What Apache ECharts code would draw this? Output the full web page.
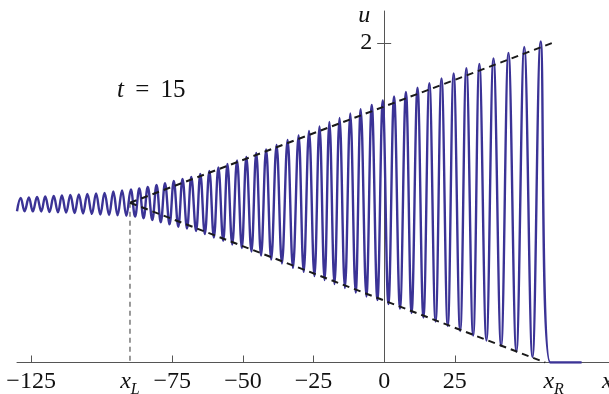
<!DOCTYPE html>
<html>
<head>
<meta charset="utf-8">
<script src="https://cdn.jsdelivr.net/npm/echarts@6/dist/echarts.min.js"></script>
<style>
html, body { margin: 0; padding: 0; background: #fff; }
#chart { width: 609px; height: 394px; }
</style>
</head>
<body>
<div id="chart"></div>
<script>
// wave extrema (x, u)
var troughX = [-130, -127.3, -124.4, -121.4, -118.5, -115.5, -112.6, -109.6, -106.6, -103.5,
	-100.5, -97.4, -94.4, -91.3, -88.2, -85.2, -82.1, -79.1, -76.0, -72.9,
	-69.8, -66.6, -63.5, -60.3, -57.0, -53.8, -50.4, -47.0, -43.6, -40.0,
	-36.2, -32.3, -28.5, -24.7, -21.1, -17.6, -13.9, -10.1, -6.3, -2.4,
	1.5, 5.6, 9.7, 13.9, 18.2, 22.5, 26.9, 31.5, 36.2, 41.4,
	46.8, 52.5];
var troughU = [0.947, 0.947, 0.946, 0.945, 0.942, 0.940, 0.938, 0.936, 0.933, 0.930,
	0.926, 0.923, 0.921, 0.918, 0.914, 0.903, 0.892, 0.878, 0.865, 0.850,
	0.839, 0.823, 0.804, 0.782, 0.761, 0.739, 0.717, 0.695, 0.670, 0.645,
	0.620, 0.592, 0.567, 0.541, 0.516, 0.491, 0.466, 0.438, 0.413, 0.391,
	0.366, 0.338, 0.310, 0.282, 0.257, 0.228, 0.197, 0.169, 0.138, 0.103,
	0.069, 0.034];
var peakX = [-128.7, -125.8, -122.9, -120.0, -117.0, -114.1, -111.1, -108.1, -105.1, -102.0,
	-99.0, -95.9, -92.8, -89.7, -86.7, -83.7, -80.6, -77.6, -74.5, -71.4,
	-68.3, -65.1, -61.9, -58.7, -55.5, -52.1, -48.8, -45.3, -41.8, -38.1,
	-34.2, -30.3, -26.6, -22.9, -19.4, -15.8, -12.0, -8.3, -4.4, -0.5,
	3.5, 7.7, 11.8, 16.0, 20.3, 24.6, 29.1, 33.7, 38.7, 44.0,
	49.6, 55.4];
var peakU = [1.030, 1.033, 1.036, 1.039, 1.042, 1.045, 1.049, 1.052, 1.055, 1.058,
	1.061, 1.070, 1.077, 1.083, 1.089, 1.099, 1.111, 1.122, 1.136, 1.149,
	1.161, 1.180, 1.199, 1.221, 1.243, 1.264, 1.286, 1.311, 1.333, 1.362,
	1.393, 1.421, 1.449, 1.477, 1.505, 1.531, 1.559, 1.585, 1.612, 1.640,
	1.665, 1.693, 1.720, 1.748, 1.778, 1.809, 1.842, 1.869, 1.903, 1.937,
	1.975, 2.009];
var tailX = [58.8, 69.9];
var tailU = [0, 0];

// envelopes and the x_L marker
var upperX = [-90, 59.5];
var upperU = [1, 2];
var lowerX = [-90, 57];
var lowerU = [1, 0];
var markX = [-90, -90];
var markU = [1, 0];

var xTicks = [-125, -75, -50, -25, 0, 25];
var xLabels = [-125, -90, -75, -50, -25, 0, 25, 60, 79];
var xL = -90, xR = 60, xNamePos = 79;
var yTicks = [2];

var xMin = -130, xMax = 79.6;
var gridLeft = 17, gridRight = 0;

function pairs(xs, ys) {
	var out = [];
	for (var i = 0; i < xs.length; i++) out.push([xs[i], ys[i]]);
	return out;
}

var wave = [];
for (var i = 0; i < peakX.length; i++) {
	wave.push([troughX[i], troughU[i]]);
	wave.push([peakX[i], peakU[i]]);
}
wave = wave.concat(pairs(tailX, tailU));

var serif = "Liberation Serif";
var ink = '#111';
var fs = 24;
var rich = {
	n: { fontFamily: serif, fontSize: fs, color: ink, lineHeight: fs, verticalAlign: 'top' },
	i: { fontFamily: serif, fontStyle: 'italic', fontSize: fs, color: ink, lineHeight: fs, verticalAlign: 'top' },
	s: { fontFamily: serif, fontStyle: 'italic', fontSize: 16, color: ink, lineHeight: 16, verticalAlign: 'top', padding: [12, 0, 0, 0] }
};

var dom = document.getElementById('chart');
var myChart = echarts.init(dom);
// move the u axis from the grid edge to x = 0
var gridWidth = dom.clientWidth - gridLeft - gridRight;
var yOffset = -(0 - xMin) / (xMax - xMin) * gridWidth;

var option = {
	animation: false,
	grid: { left: gridLeft, right: gridRight, top: 11, bottom: 31.5, containLabel: false, outerBoundsMode: 'none' },
	xAxis: {
		type: 'value',
		min: xMin,
		max: xMax,
		splitLine: { show: false },
		axisLine: { lineStyle: { color: '#555', width: 1 } },
		axisTick: { inside: true, length: 7, lineStyle: { color: '#555' }, customValues: xTicks },
		axisLabel: {
			customValues: xLabels,
			margin: 7,
			rich: rich,
			formatter: function (v) {
				if (v === xL) return '{i|x}{s|L}';
				if (v === xR) return '{i|x}{s|R}';
				if (v === xNamePos) return '{i|x}';
				return '{n|' + (v < 0 ? '\u2212' + (-v) : v) + '}';
			}
		}
	},
	yAxis: [{
		type: 'value',
		position: 'left',
		offset: yOffset,
		min: 0,
		max: 2.2,
		splitLine: { show: false },
		axisLine: { onZero: false, lineStyle: { color: '#555', width: 1 } },
		axisTick: { length: 7, lineStyle: { color: '#555' }, customValues: yTicks },
		axisLabel: {
			customValues: yTicks,
			margin: 12,
			fontFamily: serif,
			fontSize: fs,
			color: ink
		},
		name: 'u',
		nameLocation: 'end',
		nameGap: -5,
		nameTextStyle: {
			fontFamily: serif,
			fontStyle: 'italic',
			fontSize: fs,
			color: ink,
			align: 'right',
			verticalAlign: 'middle',
			padding: [0, 14, 0, 0]
		}
	}, {
		// second axis only for the right half of the crossing tick
		type: 'value',
		position: 'left',
		offset: yOffset,
		min: 0,
		max: 2.2,
		splitLine: { show: false },
		axisLine: { show: false, onZero: false },
		axisTick: { inside: true, length: 7, lineStyle: { color: '#555' }, customValues: yTicks },
		axisLabel: { show: false }
	}],
	graphic: [{
		type: 'text',
		left: 117,
		top: 78,
		style: {
			text: '{i|t}{n| \u2009=\u2009 15}',
			rich: {
				i: { fontFamily: serif, fontStyle: 'italic', fontSize: 25, fill: ink },
				n: { fontFamily: serif, fontSize: 25, fill: ink }
			}
		}
	}],
	series: [{
		name: 'u',
		type: 'line',
		data: wave,
		smooth: 0.4,
		showSymbol: false,
		lineStyle: { color: '#3b3396', width: 2.4 },
		z: 3
	}, {
		type: 'line',
		data: pairs(markX, markU),
		showSymbol: false,
		lineStyle: { color: '#777', width: 1.5, type: [5, 4] },
		z: 2
	}, {
		type: 'line',
		data: pairs(upperX, upperU),
		showSymbol: false,
		lineStyle: { color: '#1a1a1a', width: 2, type: [7, 5] },
		z: 4
	}, {
		type: 'line',
		data: pairs(lowerX, lowerU),
		showSymbol: false,
		lineStyle: { color: '#1a1a1a', width: 2, type: [7, 5] },
		z: 4
	}]
};
myChart.setOption(option);
</script>
</body>
</html>
